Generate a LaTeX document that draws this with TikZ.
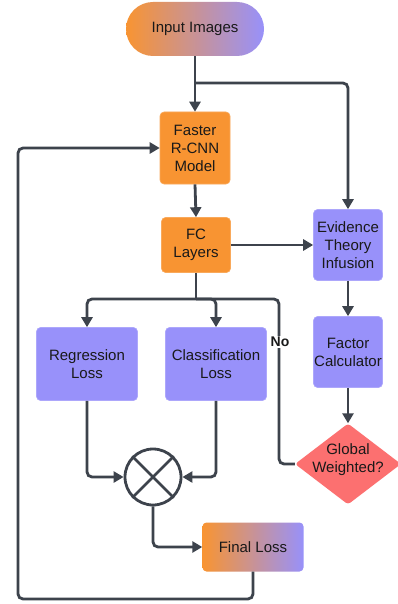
\documentclass[tikz,border=0pt]{standalone}
\usepackage{fontspec}
\setmainfont{Liberation Sans}
\usetikzlibrary{arrows.meta,shapes.geometric}
\definecolor{org}{RGB}{248,148,50}
\definecolor{pur}{RGB}{152,145,250}
\definecolor{dred}{RGB}{252,112,112}
\definecolor{ln}{RGB}{61,67,76}
\tikzset{
  every node/.style={font=\fontsize{15}{18}\selectfont, text=black!90, align=center},
  orbox/.style={rectangle, rounded corners=4pt, fill=org, draw=org!80!white, line width=0.6pt, inner sep=0pt},
  pubox/.style={rectangle, rounded corners=4pt, fill=pur, draw=pur!80!white, line width=0.6pt, inner sep=0pt},
  grbox/.style={rectangle, rounded corners=4pt, left color=org, right color=pur, draw=none, inner sep=0pt},
  conn/.style={draw=ln, line width=2.8pt, rounded corners=5pt, -{Triangle[length=10pt,width=11pt]}},
  plain/.style={draw=ln, line width=2.8pt, rounded corners=5pt},
}
\begin{document}
\begin{tikzpicture}[x=1pt,y=-1pt]
\useasboundingbox (0,0) rectangle (398,604);
\fill[white] (0,0) rectangle (398,604);
% nodes
\node[grbox, rounded corners=27pt, minimum width=138pt, minimum height=54pt] (in) at (195,29) {Input Images};
\node[orbox, minimum width=70pt, minimum height=72pt] (frcnn) at (195,148) {Faster\\R-CNN\\Model};
\node[orbox, minimum width=69pt, minimum height=55pt] (fc) at (196,245) {FC\\Layers};
\node[pubox, minimum width=69pt, minimum height=71pt] (ev) at (348,245) {Evidence\\Theory\\Infusion};
\node[pubox, minimum width=69pt, minimum height=71pt] (fac) at (348,352) {Factor\\Calculator};
\node[pubox, minimum width=101pt, minimum height=73pt] (reg) at (87,364) {Regression\\Loss};
\node[pubox, minimum width=101pt, minimum height=73pt] (cls) at (216,364) {Classification\\Loss};
\node[diamond, fill=dred, draw=none, rounded corners=3pt, inner sep=0pt, minimum width=106pt, minimum height=81pt,
      label={[yshift=4pt]center:{Global\\Weighted?}}] (gw) at (348,464) {};
\node[circle, draw=ln, line width=2.8pt, minimum size=56pt, inner sep=0pt] (mul) at (153,477) {};
\draw[ln, line width=2.8pt] (mul.north west) -- (mul.south east) (mul.north east) -- (mul.south west);
\node[grbox, minimum width=101pt, minimum height=49pt] (fl) at (253,547) {Final Loss};
% helper coordinates
\coordinate (b1) at (195,83);
\coordinate (b2) at (196,299);
\coordinate (fb1) at (18,599);
% connectors
\draw[conn] (in.south) -- (frcnn.north);
\draw[conn] (b1) -| (ev.north);
\draw[conn] (frcnn.south) -- (fc.north);
\draw[conn] (fc.east) -- (ev.west);
\draw[conn] (ev.south) -- (fac.north);
\draw[conn] (fac.south) -- (gw.north);
\draw[plain] (fc.south) -- (b2);
\draw[conn] (b2) -| (reg.north);
\draw[conn] (b2) -| (cls.north);
\draw[plain] (gw.west) -| (279,299) -- (b2);
\node[font=\bfseries\fontsize{14}{16}\selectfont, fill=white, inner sep=1pt] (no) at (280,342) {No};
\draw[conn] (reg.south) |- (mul.west);
\draw[conn] (cls.south) |- (mul.east);
\draw[conn] (mul.south) |- (fl.west);
\draw[conn] (fl.south) |- (fb1) |- (frcnn.west);
\end{tikzpicture}
\end{document}
